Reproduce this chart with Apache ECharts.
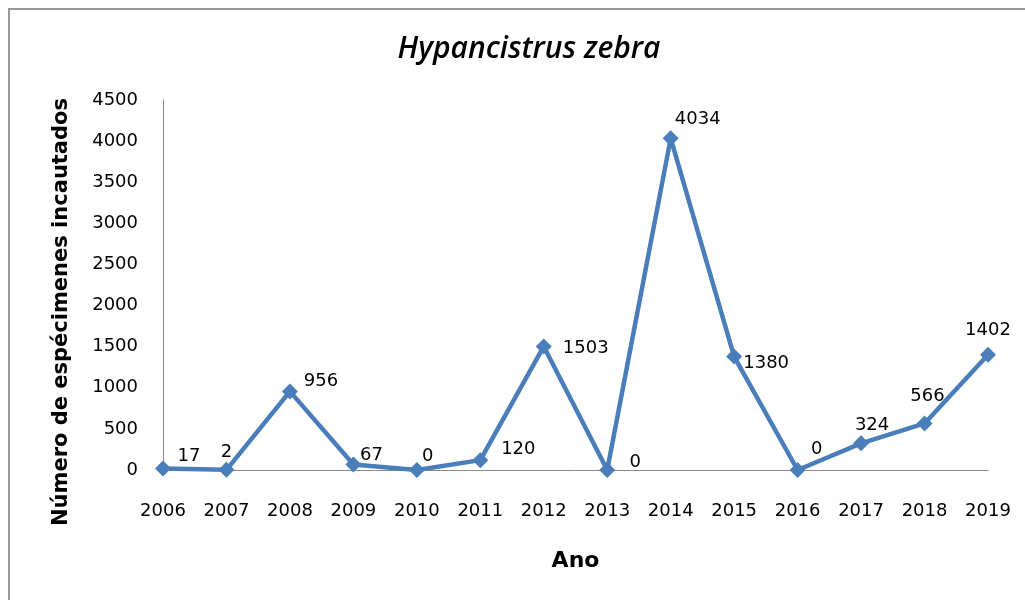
<!DOCTYPE html>
<html>
<head>
<meta charset="utf-8">
<script src="https://cdn.jsdelivr.net/npm/echarts@6/dist/echarts.min.js"></script>
<style>
  html, body { margin: 0; padding: 0; background: #fff; }
</style>
</head>
<body>
<div id="container" style="width:1025px; height:600px"></div>
<script>
// anos e espécimes apreendidos
var years = ["2006", "2007", "2008", "2009", "2010", "2011", "2012", "2013", "2014", "2015", "2016", "2017", "2018", "2019"];
var counts = [17, 2, 956, 67, 0, 120, 1503, 0, 4034, 1380, 0, 324, 566, 1402];
var yTicks = [0, 500, 1000, 1500, 2000, 2500, 3000, 3500, 4000, 4500];

// deslocamento dos rótulos (estilo Excel)
var labelOffsets = [
  [26, -12], [0, -18], [31, -10], [18, -9], [11, -14], [38, -11], [42, 2],
  [28, -8], [27, -19], [32, 7], [19, -21], [11, -18], [3, -27], [0, -24]
];

var dom = document.getElementById("container");
var myChart = echarts.init(dom);

var seriesData = counts.map(function (v, i) {
  return {
    value: v,
    label: { offset: labelOffsets[i] }
  };
});

var option = {
  backgroundColor: "#fff",
  animation: false,
  title: {
    text: "Hypancistrus zebra",
    left: 524,
    top: 29,
    textAlign: "center",
    textStyle: {
      fontFamily: "Open Sans",
      fontStyle: "italic",
      fontWeight: 600,
      fontSize: 30,
      color: "#000"
    }
  },
  grid: {
    left: 163,
    right: 37,
    top: 100,
    bottom: 130
  },
  xAxis: {
    type: "category",
    data: years,
    boundaryGap: false,
    name: "Ano",
    nameLocation: "middle",
    nameGap: 80,
    nameTextStyle: {
      fontFamily: "DejaVu Sans",
      fontWeight: "bold",
      fontSize: 22,
      color: "#000"
    },
    axisLine: { lineStyle: { color: "#888", width: 1 } },
    axisTick: { show: false },
    axisLabel: {
      margin: 32,
      fontFamily: "DejaVu Sans",
      fontSize: 18,
      color: "#000"
    },
    splitLine: { show: false }
  },
  yAxis: {
    type: "value",
    min: yTicks[0],
    max: yTicks[yTicks.length - 1],
    interval: 500,
    axisLine: { show: true, lineStyle: { color: "#888", width: 1 } },
    axisTick: { show: false },
    axisLabel: {
      margin: 25,
      fontFamily: "DejaVu Sans",
      fontSize: 18,
      color: "#000",
      formatter: function (v) { return String(v); }
    },
    splitLine: { show: false }
  },
  graphic: [
    {
      type: "rect",
      shape: { x: 9, y: 9, width: 1100, height: 700 },
      style: { fill: "none", stroke: "#999", lineWidth: 2 },
      silent: true
    },
    {
      type: "text",
      x: 62,
      y: 312,
      rotation: Math.PI / 2,
      style: {
        text: "Número de espécimenes incautados",
        font: "bold 21px 'DejaVu Sans'",
        fill: "#000",
        align: "center",
        verticalAlign: "middle"
      }
    }
  ],
  series: [
    {
      type: "line",
      data: seriesData,
      symbol: "diamond",
      symbolSize: 16,
      lineStyle: { color: "#4a7ebb", width: 4.5 },
      itemStyle: { color: "#4a7ebb" },
      label: {
        show: true,
        position: "inside",
        fontFamily: "DejaVu Sans",
        fontSize: 18,
        color: "#000"
      }
    }
  ]
};

myChart.setOption(option, true);
</script>
</body>
</html>
